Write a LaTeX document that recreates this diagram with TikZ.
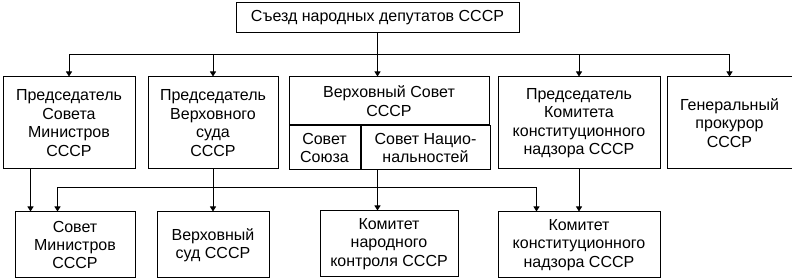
\documentclass[tikz,border=0pt]{standalone}
\usepackage{fontspec}
\setmainfont{Liberation Sans}
\usepackage{tikz}
\usetikzlibrary{arrows.meta,positioning,calc}

\begin{document}
\begin{tikzpicture}[
  x=1pt, y=-1pt, >={Triangle[width=6pt,length=5pt]},
  node distance=42pt and 10pt,
  box/.style={draw, line width=1pt, align=center, inner sep=1pt,
              minimum height=92pt, font=\fontsize{16}{18.4}\selectfont},
  cell/.style={box, minimum height=44pt},
  low/.style={box, minimum height=66pt},
  every path/.style={line width=1pt}]
\useasboundingbox (0,0) rectangle (792,280);
% top
\node[box, minimum width=283pt, minimum height=30pt] (sezd) at (377.5,18) {Съезд народных депутатов СССР};
% first row
\node[box, minimum width=132pt] (pred) at (69,123) {Председатель\\Совета\\Министров\\СССР};
\node[box, minimum width=130pt, right=12pt of pred] (predvs) {Председатель\\Верховного\\суда\\СССР};
\node[box, minimum width=200pt, minimum height=48pt, right=10pt of predvs.north east, anchor=north west] (vstop) {Верховный Совет\\СССР};
\node[cell, minimum width=71pt, below=0pt of vstop.south west, anchor=north west] (soyuz) {Совет\\Союза};
\node[cell, minimum width=129pt, right=0pt of soyuz] (nats) {Совет Нацио-\\нальностей};
\node[box, minimum width=162pt, right=8pt of vstop.north east, anchor=north west] (predkn) {Председатель\\Комитета\\конституционного\\надзора СССР};
\node[box, minimum width=125pt, right=6pt of predkn] (genprok) {Генеральный\\прокурор\\СССР};
% second row
\node[low, minimum width=120pt, below=42pt of pred.south east, anchor=north east] (sovmin) {Совет\\Министров\\СССР};
\node[low, minimum width=112pt, below=of predvs] (verhsud) {Верховный\\суд СССР};
\node[low, minimum width=138pt] (komnk) at (389,244) {Комитет\\народного\\контроля СССР};
\node[low, minimum width=162pt, below=of predkn] (komkn) {Комитет\\конституционного\\надзора СССР};
% connectors
\coordinate (bus) at ($(sezd.south)!0.5!(vstop.north)$);
\coordinate (bus2) at ([yshift=-18pt]pred.south);
\coordinate (a1) at ([xshift=16pt]sovmin.north west);
\coordinate (a2) at ([xshift=43pt]sovmin.north west);
\coordinate (d1) at ([xshift=39pt]komkn.north west);
\draw (bus -| pred) -- (bus -| genprok);
\foreach \n in {pred,predvs,predkn,genprok}
  \draw[->] (bus -| \n) -- (\n);
\draw[->] (sezd.south) -- (sezd.south |- vstop.north);
\draw[->] (a1 |- pred.south) -- (a1);
\draw[->] (predvs) -- (verhsud);
\draw[->] (sezd.south |- nats.south) -- (sezd.south |- komnk.north);
\draw[->] (predkn) -- (komkn);
\draw[<->] (a2) -- (a2 |- bus2) -- (bus2 -| d1) -- (d1);
\end{tikzpicture}
\end{document}
